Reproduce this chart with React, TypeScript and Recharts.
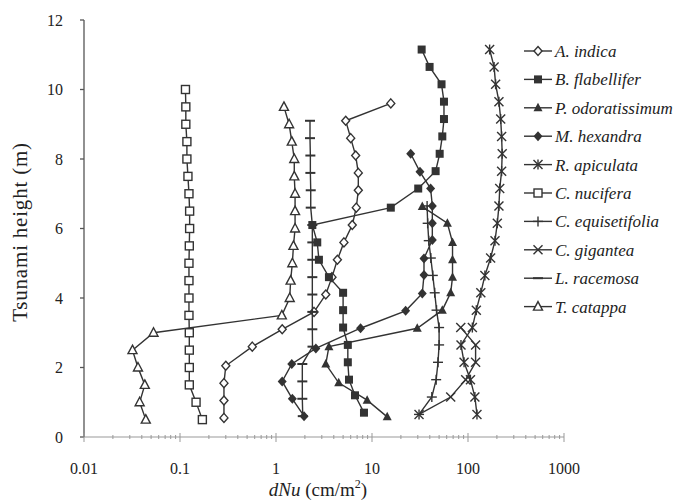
import { ScatterChart, Scatter, XAxis, YAxis, Legend } from 'recharts';

// heights (m) and dNu (cm/m2), one pair of arrays per species
const aIndicaH = [0.55, 1.05, 1.55, 2.05, 2.6, 3.1, 3.6, 4.1, 4.6, 5.1, 5.6, 6.1, 6.6, 7.1, 7.6, 8.1, 8.6, 9.1, 9.6];
const aIndicaX = [0.287, 0.287, 0.287, 0.3, 0.566, 1.16, 2.49, 3.3, 3.83, 4.36, 5.1, 6.23, 6.86, 7.2, 7.2, 6.76, 6.0, 5.32, 15.7];

const bFlabH = [0.7, 1.2, 1.65, 2.15, 2.65, 3.15, 3.65, 4.15, 4.6, 5.1, 5.6, 6.1, 6.6, 7.15, 7.65, 8.15, 8.65, 9.15, 9.65, 10.15, 10.65, 11.15];
const bFlabX = [8.25, 6.65, 5.76, 5.6, 5.6, 5.0, 5.0, 5.0, 3.56, 2.8, 2.69, 2.39, 15.7, 30.3, 46, 50.7, 54, 56.2, 56.2, 53, 39.8, 32.9];

const pOdorH = [0.58, 1.06, 1.56, 2.1, 2.6, 3.13, 3.65, 4.15, 4.6, 5.1, 5.6, 6.15, 6.63];
const pOdorX = [14.4, 8.9, 4.5, 3.3, 3.56, 29.6, 54, 66, 69, 69, 69, 61, 33.4];

const mHexH = [0.6, 1.1, 1.6, 2.1, 2.55, 3.13, 3.63, 4.13, 4.66, 5.14, 5.67, 6.15, 6.65, 7.15, 7.63, 8.15];
const mHexX = [1.96, 1.48, 1.16, 1.46, 2.6, 7.6, 22.4, 33.4, 34.8, 34.8, 42.5, 42.5, 42.5, 40.8, 31.6, 25.3];

const rApicH = [0.65, 1.15, 1.65, 2.15, 2.65, 3.15, 3.65, 4.15, 4.65, 5.15, 5.65, 6.15, 6.65, 7.15, 7.65, 8.15, 8.65, 9.15, 9.65, 10.15, 10.65, 11.15];
const rApicX = [124, 118, 106, 91, 84.5, 111, 122, 136, 150, 172, 191, 202, 210, 214, 224, 227, 224, 219, 210, 194, 187, 168];

const cNucH = [0.5, 1, 1.5, 2, 2.5, 3, 3.5, 4, 4.5, 5, 5.5, 6, 6.5, 7, 7.5, 8, 8.5, 9, 9.5, 10];
const cNucX = [0.171, 0.147, 0.125, 0.125, 0.125, 0.125, 0.124, 0.124, 0.124, 0.124, 0.125, 0.126, 0.126, 0.124, 0.121, 0.118, 0.118, 0.115, 0.115, 0.114];

const cEquiH = [0.65, 1.15, 1.65, 2.15, 2.65, 3.15, 3.65, 4.15, 4.65, 5.15, 5.65, 6.15, 6.65];
const cEquiX = [30.9, 42, 46.6, 48.7, 50, 50, 47, 45, 43, 41, 39, 38, 37.5];

const cGigH = [0.65, 1.15, 1.65, 2.15, 2.65, 3.15];
const cGigX = [30.9, 66, 94.6, 120, 120, 84];

const lRacH = [0.6, 1.1, 1.6, 2.1, 2.6, 3.1, 3.6, 4.1, 4.6, 5.1, 5.6, 6.1, 6.6, 7.1, 7.6, 8.1, 8.6, 9.1];
const lRacX = [1.9, 1.88, 1.88, 1.88, 2.4, 2.39, 2.39, 2.39, 2.39, 2.39, 2.39, 2.39, 2.3, 2.3, 2.28, 2.28, 2.26, 2.26];

const tCatH = [0.5, 1, 1.5, 2, 2.5, 3, 3.5, 4, 4.5, 5, 5.5, 6, 6.5, 7, 7.5, 8, 8.5, 9, 9.5];
const tCatX = [0.044, 0.038, 0.043, 0.0365, 0.032, 0.053, 1.15, 1.39, 1.42, 1.48, 1.52, 1.58, 1.58, 1.58, 1.55, 1.55, 1.46, 1.37, 1.21];

const xTicks = [0.01, 0.1, 1, 10, 100, 1000];
const minorTicks = [0.01, 0.1, 1, 10, 100].flatMap((d) => [2, 3, 4, 5, 6, 7, 8, 9].map((m) => m * d));
const yTicks = [0, 2, 4, 6, 8, 10, 12];

const INK = '#333';
const FONT = '"Liberation Serif", "Times New Roman", serif';

type Kind =
  | 'openDiamond' | 'square' | 'triangle' | 'diamond' | 'asterisk'
  | 'openSquare' | 'plus' | 'cross' | 'dash' | 'openTriangle';

const toPoints = (h: number[], x: number[]) => h.map((y, i) => ({ x: x[i], y }));

const series: { name: string; kind: Kind; data: { x: number; y: number }[] }[] = [
  { name: 'A. indica', kind: 'openDiamond', data: toPoints(aIndicaH, aIndicaX) },
  { name: 'B. flabellifer', kind: 'square', data: toPoints(bFlabH, bFlabX) },
  { name: 'P. odoratissimum', kind: 'triangle', data: toPoints(pOdorH, pOdorX) },
  { name: 'M. hexandra', kind: 'diamond', data: toPoints(mHexH, mHexX) },
  { name: 'R. apiculata', kind: 'asterisk', data: toPoints(rApicH, rApicX) },
  { name: 'C. nucifera', kind: 'openSquare', data: toPoints(cNucH, cNucX) },
  { name: 'C. equisetifolia', kind: 'plus', data: toPoints(cEquiH, cEquiX) },
  { name: 'C. gigantea', kind: 'cross', data: toPoints(cGigH, cGigX) },
  { name: 'L. racemosa', kind: 'dash', data: toPoints(lRacH, lRacX) },
  { name: 'T. catappa', kind: 'openTriangle', data: toPoints(tCatH, tCatX) },
];

function Marker({ kind, cx, cy }: { kind: Kind; cx: number; cy: number }) {
  const sw = 1.4;
  switch (kind) {
    case 'openDiamond':
      return <polygon points={`${cx},${cy - 4.5} ${cx + 4},${cy} ${cx},${cy + 4.5} ${cx - 4},${cy}`} fill="#fff" stroke={INK} strokeWidth={sw} />;
    case 'square':
      return <rect x={cx - 4} y={cy - 4} width={8} height={8} fill={INK} />;
    case 'triangle':
      return <polygon points={`${cx},${cy - 5} ${cx + 4.5},${cy + 3.5} ${cx - 4.5},${cy + 3.5}`} fill={INK} />;
    case 'diamond':
      return <polygon points={`${cx},${cy - 5} ${cx + 4.5},${cy} ${cx},${cy + 5} ${cx - 4.5},${cy}`} fill={INK} />;
    case 'asterisk':
      return (
        <g stroke={INK} strokeWidth={sw}>
          <line x1={cx - 4.5} y1={cy - 4.5} x2={cx + 4.5} y2={cy + 4.5} />
          <line x1={cx - 4.5} y1={cy + 4.5} x2={cx + 4.5} y2={cy - 4.5} />
          <line x1={cx} y1={cy - 5} x2={cx} y2={cy + 5} />
        </g>
      );
    case 'openSquare':
      return <rect x={cx - 4} y={cy - 4} width={8} height={8} fill="#fff" stroke={INK} strokeWidth={sw} />;
    case 'plus':
      return (
        <g stroke={INK} strokeWidth={sw}>
          <line x1={cx - 5} y1={cy} x2={cx + 5} y2={cy} />
          <line x1={cx} y1={cy - 5} x2={cx} y2={cy + 5} />
        </g>
      );
    case 'cross':
      return (
        <g stroke={INK} strokeWidth={sw}>
          <line x1={cx - 4.5} y1={cy - 4.5} x2={cx + 4.5} y2={cy + 4.5} />
          <line x1={cx - 4.5} y1={cy + 4.5} x2={cx + 4.5} y2={cy - 4.5} />
        </g>
      );
    case 'dash':
      return <line x1={cx - 5} y1={cy} x2={cx + 5} y2={cy} stroke={INK} strokeWidth={2} />;
    case 'openTriangle':
      return <polygon points={`${cx},${cy - 5} ${cx + 4.5},${cy + 3.5} ${cx - 4.5},${cy + 3.5}`} fill="#fff" stroke={INK} strokeWidth={sw} />;
  }
  return null;
}

const XTick = (props: any) => {
  const { x, y, payload } = props;
  const major = xTicks.includes(payload.value);
  return (
    <g>
      <line x1={x} x2={x} y1={y - (major ? 4 : 2)} y2={y + (major ? 5 : 2)} stroke="#999" strokeWidth={1} />
      {major && (
        <text x={x} y={y + 26} dy="0.71em" textAnchor="middle" fontSize={16} fontFamily={FONT} fill="#222">
          {payload.value}
        </text>
      )}
    </g>
  );
};

const renderXLabel = (props: any) => {
  const vb = props.viewBox ?? { x: 84, y: 437, width: 480, height: 66 };
  return (
    <text x={vb.x + vb.width / 2 - 6} y={vb.y + 59} textAnchor="middle" fontSize={19} fontFamily={FONT} fill="#222">
      <tspan fontStyle="italic">dNu</tspan>
      <tspan> (cm/m</tspan>
      <tspan dy={-8} fontSize={12}>2</tspan>
      <tspan dy={8}>)</tspan>
    </text>
  );
};

const renderYLabel = () => (
  <text
    x={20}
    y={232}
    transform="rotate(-90, 20, 232)"
    textAnchor="middle"
    dominantBaseline="central"
    fontSize={21}
    letterSpacing={0.8}
    fontFamily={FONT}
    fill="#222"
  >
    Tsunami height (m)
  </text>
);

const renderLegend = () => (
  <svg width={153} height={290} style={{ position: 'absolute', left: 0, top: 0, overflow: 'visible' }}>
    {series.map((s, i) => {
      const cy = 13 + i * 28.4;
      return (
        <g key={s.name}>
          <line x1={0} x2={28} y1={cy} y2={cy} stroke={INK} strokeWidth={1.4} />
          <Marker kind={s.kind} cx={14} cy={cy} />
          <text x={31} y={cy} dy="0.35em" fontSize={17} fontStyle="italic" fontFamily={FONT} fill="#222">
            {s.name}
          </text>
        </g>
      );
    })}
  </svg>
);

export default function App() {
  return (
    <div style={{ position: 'absolute', left: 0, top: 0, width: 677, height: 503, background: '#fff' }}>
      <ScatterChart width={677} height={503} margin={{ top: 20, right: 113, bottom: 0, left: 0 }}>
        <XAxis
          type="number"
          dataKey="x"
          scale="log"
          domain={[0.01, 1000]}
          allowDataOverflow
          ticks={[...xTicks, ...minorTicks]}
          interval={0}
          tick={<XTick />}
          tickLine={false}
          tickSize={0}
          tickMargin={0}
          height={66}
          stroke="#999"
          label={renderXLabel}
        />
        <YAxis
          type="number"
          dataKey="y"
          domain={[0, 12]}
          ticks={yTicks}
          interval={0}
          width={84}
          tickSize={4}
          tickMargin={17}
          stroke="#555"
          strokeWidth={1.3}
          tick={{ fontSize: 16, fontFamily: FONT, fill: '#222' }}
          label={renderYLabel}
        />
        <Legend
          content={renderLegend}
          wrapperStyle={{ left: 524, top: 38, width: 0, height: 0, overflow: 'visible' }}
        />
        {series.map((s) => (
          <Scatter
            key={s.name}
            name={s.name}
            data={s.data}
            line={{ stroke: INK, strokeWidth: 1.4 }}
            shape={(p: any) => <Marker kind={s.kind} cx={p.cx} cy={p.cy} />}
            isAnimationActive={false}
          />
        ))}
      </ScatterChart>
    </div>
  );
}
